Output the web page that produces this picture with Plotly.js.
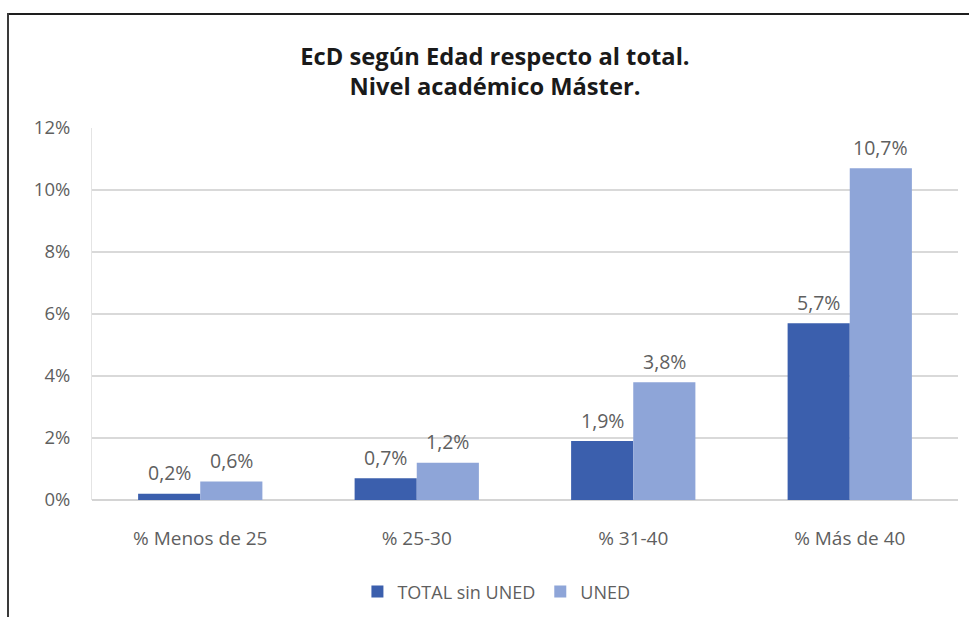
<!DOCTYPE html>
<html>
<head>
<meta charset="utf-8">
<script src="https://cdn.plot.ly/plotly-3.0.1.min.js"></script>
<style>
  html, body { margin: 0; padding: 0; background: #fff; }
  #wrap { position: relative; width: 969px; height: 617px; overflow: hidden; }
  #chart { position: absolute; left: 0; top: 0; width: 969px; height: 617px; }
  #frameTop { position: absolute; left: 7px; top: 13px; width: 962px; height: 2px; background: #1e1e1e; }
  #frameLeft { position: absolute; left: 7px; top: 13px; width: 2px; height: 604px; background: #3a3a3a; }
</style>
</head>
<body>
<div id="wrap">
  <div id="chart"></div>
  <div id="frameTop"></div>
  <div id="frameLeft"></div>
</div>
<script>
const categories = ['% Menos de 25', '% 25-30', '% 31-40', '% Más de 40'];
const seriesNames = ['TOTAL sin UNED', 'UNED'];
const totalSinUned = [0.2, 0.7, 1.9, 5.7];
const uned = [0.6, 1.2, 3.8, 10.7];
const yTickVals = [0, 2, 4, 6, 8, 10, 12];
const yTickText = ['0%', '2%', '4%', '6%', '8%', '10%', '12%'];
const chartTitle = 'EcD según Edad respecto al total.<br>Nivel académico Máster.';

const darkBlue = '#3b5fad';
const lightBlue = '#8ea5d8';
const textGray = '#5f5f5f';
const fontFam = '"Open Sans", Lato, "DejaVu Sans", sans-serif';

const bargap = 0.426;
const barW = (1 - bargap) / 2;

function fmt(v) { return v.toFixed(1).replace('.', ',') + '%'; }

const traces = [
  { type: 'bar', name: seriesNames[0], x: categories, y: totalSinUned,
    marker: { color: darkBlue }, hoverinfo: 'skip' },
  { type: 'bar', name: seriesNames[1], x: categories, y: uned,
    marker: { color: lightBlue }, hoverinfo: 'skip' }
];

const annotations = [];
[totalSinUned, uned].forEach((arr, s) => {
  arr.forEach((v, i) => {
    annotations.push({
      x: i + (s === 0 ? -barW / 2 : barW / 2), y: v,
      xref: 'x', yref: 'y', text: fmt(v), showarrow: false,
      yanchor: 'middle', yshift: 21,
      font: { family: fontFam, size: 19.5, color: textGray }
    });
  });
});

const layout = {
  width: 969, height: 617,
  margin: { l: 92, r: 11, t: 128, b: 117, autoexpand: false },
  paper_bgcolor: '#ffffff', plot_bgcolor: '#ffffff',
  separators: ',.',
  title: {
    text: '<b>' + chartTitle + '</b>',
    font: { family: fontFam, size: 23.7, color: '#1a1a1a' },
    x: 495 / 969, xref: 'container', xanchor: 'center',
    y: 1 - 64.5 / 617, yref: 'container', yanchor: 'middle'
  },
  barmode: 'group', bargap: bargap, bargroupgap: 0,
  xaxis: {
    type: 'category', showgrid: false, zeroline: false, showline: false,
    ticks: '', ticklabelstandoff: 25,
    tickfont: { family: fontFam, size: 19, color: textGray }
  },
  yaxis: {
    range: [0, 12], tickvals: yTickVals, ticktext: yTickText,
    showgrid: true, gridcolor: '#d9d9d9', gridwidth: 2,
    zeroline: true, zerolinecolor: '#d4d4d4', zerolinewidth: 2,
    showline: true, linecolor: '#e4e4e4', linewidth: 1,
    ticks: '', ticklabelstandoff: 17,
    tickfont: { family: fontFam, size: 18.5, color: textGray }
  },
  showlegend: true,
  legend: {
    orientation: 'h', x: 0.467, xanchor: 'center', y: -0.247, yanchor: 'middle',
    font: { family: fontFam, size: 18, color: textGray },
    itemclick: false, itemdoubleclick: false
  },
  annotations: annotations
};

Plotly.newPlot('chart', traces, layout, { displayModeBar: false, staticPlot: true });
</script>
</body>
</html>
